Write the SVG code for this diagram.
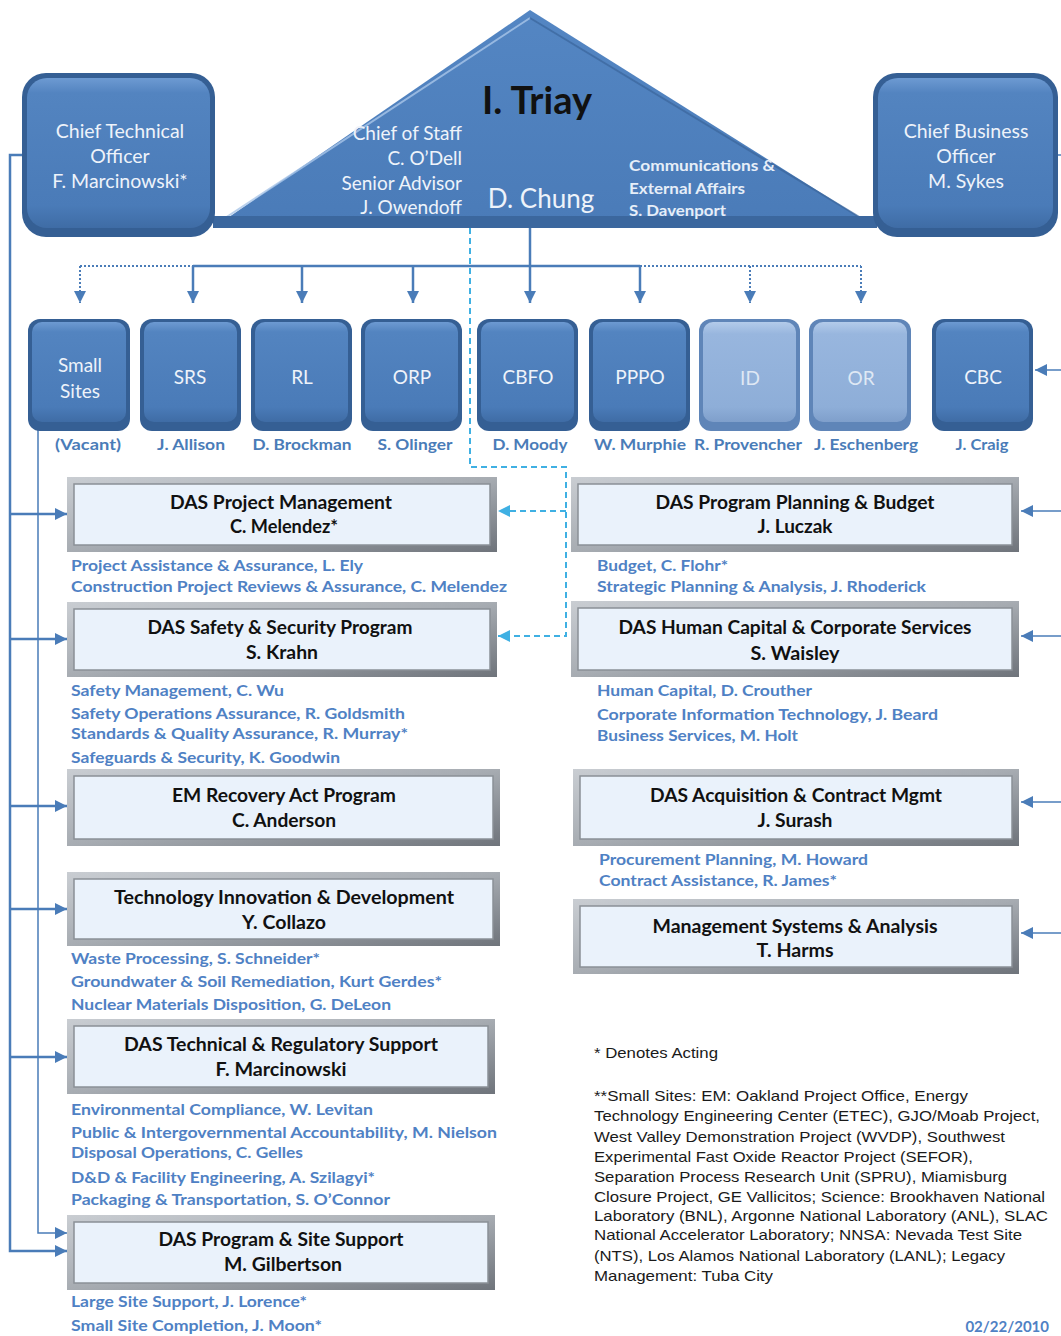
<svg xmlns="http://www.w3.org/2000/svg" width="1061" height="1336" viewBox="0 0 1061 1336">
<defs>
  <linearGradient id="gSite" x1="0" y1="0" x2="0" y2="1">
    <stop offset="0" stop-color="#6d9ad2"/>
    <stop offset="0.1" stop-color="#5384c0"/>
    <stop offset="0.85" stop-color="#4a7bb8"/>
    <stop offset="1" stop-color="#3f6ca5"/>
  </linearGradient>
  <linearGradient id="gLight" x1="0" y1="0" x2="0" y2="1">
    <stop offset="0" stop-color="#b3cbea"/>
    <stop offset="0.12" stop-color="#98b6de"/>
    <stop offset="0.85" stop-color="#8eaed8"/>
    <stop offset="1" stop-color="#7f9fcb"/>
  </linearGradient>
  <linearGradient id="gTri" x1="0" y1="0" x2="0" y2="1">
    <stop offset="0" stop-color="#5486c3"/>
    <stop offset="1" stop-color="#4a7bb8"/>
  </linearGradient>
  <linearGradient id="gFrame" x1="0" y1="0" x2="1" y2="1">
    <stop offset="0" stop-color="#c9cdd2"/>
    <stop offset="0.5" stop-color="#a7acb2"/>
    <stop offset="1" stop-color="#6f747b"/>
  </linearGradient>
  <marker id="ah" viewBox="0 0 10 10" refX="10" refY="5" markerWidth="12" markerHeight="12" markerUnits="userSpaceOnUse" orient="auto">
    <path d="M0,0 L10,5 L0,10 z" fill="#4a7cb8"/>
  </marker>
  <marker id="ahc" viewBox="0 0 10 10" refX="10" refY="5" markerWidth="12" markerHeight="12" markerUnits="userSpaceOnUse" orient="auto">
    <path d="M0,0 L10,5 L0,10 z" fill="#3fb0e3"/>
  </marker>
</defs>
<style>
  .siteOuter { fill: #355f94; }
  .siteInner { fill: url(#gSite); }
  .lightOuter { fill: #5f85b8; }
  .lightInner { fill: url(#gLight); }
  .siteTxt { font-family: Lato, "Open Sans", sans-serif; font-size: 19px; fill: #eef3fa; text-anchor: middle; }
  .lightTxt { font-family: Lato, "Open Sans", sans-serif; font-size: 19px; fill: #dfe8f4; text-anchor: middle; }
  .siteName { font-family: Lato, "Open Sans", sans-serif; font-size: 15px; font-weight: bold; fill: #4a7cb8; text-anchor: middle; }
  .chiefTxt { font-family: Lato, "Open Sans", sans-serif; font-size: 19.5px; fill: #eef3fa; text-anchor: middle; }
  .triTxt { font-family: Lato, "Open Sans", sans-serif; font-size: 19px; fill: #eef3fa; text-anchor: end; }
  .commTxt { font-family: Lato, "Open Sans", sans-serif; font-size: 15.5px; font-weight: bold; fill: #e6eef8; }
  .frameO { fill: url(#gFrame); }
  .frameI { fill: #eaf2fb; stroke: #8a9097; stroke-width: 1.5; }
  .boxTxt { font-family: Lato, "Open Sans", sans-serif; font-size: 19px; font-weight: bold; fill: #111; text-anchor: middle; }
  .sub { font-family: Lato, "Open Sans", sans-serif; font-size: 16px; font-weight: bold; fill: #4f81c4; }
  .note { font-family: "Liberation Sans", Arial, sans-serif; font-size: 14.5px; fill: #1a1a1a; }
  .conn { fill: none; stroke: #4a7cb8; }
  .thick { stroke-width: 2.5; }
  .thin { stroke-width: 1.5; }
  .dot { stroke-dasharray: 2 2; stroke-width: 2; }
  .cyan { fill: none; stroke: #3fb0e3; stroke-width: 2; stroke-dasharray: 6 4; }
</style>
<rect width="1061" height="1336" fill="#ffffff"/>

<!-- connectors -->
<g id="connectors">
  <path class="conn thick" d="M530,227 V303" marker-end="url(#ah)"/>
  <path class="conn thick" d="M193,266 H640"/>
  <path class="conn dot" d="M80,266 H193"/>
  <path class="conn dot" d="M640,266 H861"/>
  <path class="conn dot" d="M80,266 V303" marker-end="url(#ah)"/>
  <path class="conn thick" d="M193,266 V303" marker-end="url(#ah)"/>
  <path class="conn thick" d="M302,266 V303" marker-end="url(#ah)"/>
  <path class="conn thick" d="M413,266 V303" marker-end="url(#ah)"/>
  <path class="conn thick" d="M640,266 V303" marker-end="url(#ah)"/>
  <path class="conn dot" d="M750,266 V303" marker-end="url(#ah)"/>
  <path class="conn dot" d="M861,266 V303" marker-end="url(#ah)"/>
  <path class="conn thick" d="M23,155 H10 V1251 H67" marker-end="url(#ah)"/>
  <path class="conn thick" d="M10,514 H67" marker-end="url(#ah)"/>
  <path class="conn thick" d="M10,639 H67" marker-end="url(#ah)"/>
  <path class="conn thick" d="M10,806 H67" marker-end="url(#ah)"/>
  <path class="conn thick" d="M10,909 H67" marker-end="url(#ah)"/>
  <path class="conn thick" d="M10,1057 H67" marker-end="url(#ah)"/>
  <path class="conn thin" d="M38,430 V1233 H67" marker-end="url(#ah)"/>
  <path class="conn thin" d="M1057,155 H1061"/>
  <path class="conn thin" d="M1061,370 H1035" marker-end="url(#ah)"/>
  <path class="conn thin" d="M1061,511 H1021" marker-end="url(#ah)"/>
  <path class="conn thin" d="M1061,636 H1021" marker-end="url(#ah)"/>
  <path class="conn thin" d="M1061,802 H1021" marker-end="url(#ah)"/>
  <path class="conn thin" d="M1061,933 H1021" marker-end="url(#ah)"/>
  <path class="cyan" d="M470,228 V467 H566 V636 H498" marker-end="url(#ahc)"/>
  <path class="cyan" d="M566,511 H498" marker-end="url(#ahc)"/>
</g>

<g id="front-office">
  <polygon points="213,228 530,10 877,228" fill="url(#gTri)"/>
  <path d="M222,220 L530,18" stroke="#a9c5e8" stroke-width="2" fill="none" opacity="0.8"/>
  <path d="M530,18 L866,221" stroke="#3a659b" stroke-width="2" fill="none" opacity="0.7"/>
  <rect x="213" y="216" width="664" height="12" fill="#3b679e"/>
  <text x="537" y="114" font-family="Lato, 'Open Sans', sans-serif" font-size="38" font-weight="bold" fill="#111" text-anchor="middle">I. Triay</text>
  <text class="triTxt" x="462" y="140">Chief of Staff</text>
  <text class="triTxt" x="462" y="165">C. O’Dell</text>
  <text class="triTxt" x="462" y="190">Senior Advisor</text>
  <text class="triTxt" x="462" y="214">J. Owendoff</text>
  <text x="541" y="208" font-family="Lato, 'Open Sans', sans-serif" font-size="26" fill="#eef3fa" text-anchor="middle">D. Chung</text>
  <text class="commTxt" x="629" y="171" textLength="146" lengthAdjust="spacingAndGlyphs">Communications &amp;</text>
  <text class="commTxt" x="629" y="194" textLength="116" lengthAdjust="spacingAndGlyphs">External Affairs</text>
  <text class="commTxt" x="629" y="216" textLength="97" lengthAdjust="spacingAndGlyphs">S. Davenport</text>
</g>

<g id="cto">
  <rect x="22" y="73" width="193" height="164" rx="24" class="siteOuter"/>
  <rect x="27" y="78" width="183" height="150" rx="20" class="siteInner"/>
  <text class="chiefTxt" x="120" y="138">Chief Technical</text>
  <text class="chiefTxt" x="120" y="163">Officer</text>
  <text class="chiefTxt" x="120" y="188">F. Marcinowski*</text>
</g>
<g id="cbo">
  <rect x="873" y="73" width="185" height="164" rx="24" class="siteOuter"/>
  <rect x="878" y="78" width="175" height="150" rx="20" class="siteInner"/>
  <text class="chiefTxt" x="966" y="138">Chief Business</text>
  <text class="chiefTxt" x="966" y="163">Officer</text>
  <text class="chiefTxt" x="966" y="188">M. Sykes</text>
</g>

<g id="small-sites">
  <rect x="28" y="319" width="102" height="112" rx="12" class="siteOuter"/>
  <rect x="32" y="322" width="94" height="100" rx="10" class="siteInner"/>
  <text class="siteTxt" x="80" y="372" font-size="22">Small</text>
  <text class="siteTxt" x="80" y="398" font-size="22">Sites</text>
  <text class="siteName" x="88" y="450" textLength="66" lengthAdjust="spacingAndGlyphs">(Vacant)</text>
</g>
<g id="srs">
  <rect x="140" y="319" width="101" height="112" rx="12" class="siteOuter"/>
  <rect x="144" y="322" width="93" height="100" rx="10" class="siteInner"/>
  <text class="siteTxt" x="190" y="384">SRS</text>
  <text class="siteName" x="191" y="450" textLength="68" lengthAdjust="spacingAndGlyphs">J. Allison</text>
</g>
<g id="rl">
  <rect x="251" y="319" width="101" height="112" rx="12" class="siteOuter"/>
  <rect x="255" y="322" width="93" height="100" rx="10" class="siteInner"/>
  <text class="siteTxt" x="302" y="384">RL</text>
  <text class="siteName" x="302" y="450" textLength="99" lengthAdjust="spacingAndGlyphs">D. Brockman</text>
</g>
<g id="orp">
  <rect x="361" y="319" width="101" height="112" rx="12" class="siteOuter"/>
  <rect x="365" y="322" width="93" height="100" rx="10" class="siteInner"/>
  <text class="siteTxt" x="412" y="384">ORP</text>
  <text class="siteName" x="415" y="450" textLength="75" lengthAdjust="spacingAndGlyphs">S. Olinger</text>
</g>
<g id="cbfo">
  <rect x="477" y="319" width="101" height="112" rx="12" class="siteOuter"/>
  <rect x="481" y="322" width="93" height="100" rx="10" class="siteInner"/>
  <text class="siteTxt" x="528" y="384">CBFO</text>
  <text class="siteName" x="530" y="450" textLength="75" lengthAdjust="spacingAndGlyphs">D. Moody</text>
</g>
<g id="pppo">
  <rect x="589" y="319" width="101" height="112" rx="12" class="siteOuter"/>
  <rect x="593" y="322" width="93" height="100" rx="10" class="siteInner"/>
  <text class="siteTxt" x="640" y="384">PPPO</text>
  <text class="siteName" x="640" y="450" textLength="92" lengthAdjust="spacingAndGlyphs">W. Murphie</text>
</g>
<g id="id">
  <rect x="699" y="319" width="101" height="112" rx="12" class="lightOuter"/>
  <rect x="703" y="322" width="93" height="100" rx="10" class="lightInner"/>
  <text class="lightTxt" x="750" y="385">ID</text>
  <text class="siteName" x="748" y="450" textLength="108" lengthAdjust="spacingAndGlyphs">R. Provencher</text>
</g>
<g id="or">
  <rect x="809" y="319" width="102" height="112" rx="12" class="lightOuter"/>
  <rect x="813" y="322" width="94" height="100" rx="10" class="lightInner"/>
  <text class="lightTxt" x="861" y="385">OR</text>
  <text class="siteName" x="866" y="450" textLength="104" lengthAdjust="spacingAndGlyphs">J. Eschenberg</text>
</g>
<g id="cbc">
  <rect x="932" y="319" width="101" height="112" rx="12" class="siteOuter"/>
  <rect x="936" y="322" width="93" height="100" rx="10" class="siteInner"/>
  <text class="siteTxt" x="983" y="384">CBC</text>
  <text class="siteName" x="982" y="450" textLength="53" lengthAdjust="spacingAndGlyphs">J. Craig</text>
</g>

<g id="das-pm">
  <rect x="67" y="477" width="430" height="75" class="frameO"/>
  <rect x="74" y="484" width="416" height="61" class="frameI"/>
  <text class="boxTxt" x="281" y="509" textLength="222" lengthAdjust="spacingAndGlyphs">DAS Project Management</text>
  <text class="boxTxt" x="284" y="533" textLength="108" lengthAdjust="spacingAndGlyphs">C. Melendez*</text>
  <text class="sub" x="71" y="571" textLength="292" lengthAdjust="spacingAndGlyphs">Project Assistance &amp; Assurance, L. Ely</text>
  <text class="sub" x="71" y="592" font-size="14.5" textLength="436" lengthAdjust="spacingAndGlyphs">Construction Project Reviews &amp; Assurance, C. Melendez</text>
</g>
<g id="das-safety">
  <rect x="67" y="602" width="430" height="75" class="frameO"/>
  <rect x="74" y="609" width="416" height="61" class="frameI"/>
  <text class="boxTxt" x="280" y="634" textLength="265" lengthAdjust="spacingAndGlyphs">DAS Safety &amp; Security Program</text>
  <text class="boxTxt" x="282" y="659" textLength="72" lengthAdjust="spacingAndGlyphs">S. Krahn</text>
  <text class="sub" x="71" y="696" font-size="15" textLength="213" lengthAdjust="spacingAndGlyphs">Safety Management, C. Wu</text>
  <text class="sub" x="71" y="719" textLength="334" lengthAdjust="spacingAndGlyphs">Safety Operations Assurance, R. Goldsmith</text>
  <text class="sub" x="71" y="739" font-size="15" textLength="337" lengthAdjust="spacingAndGlyphs">Standards &amp; Quality Assurance, R. Murray*</text>
  <text class="sub" x="71" y="763" font-size="15" textLength="269" lengthAdjust="spacingAndGlyphs">Safeguards &amp; Security, K. Goodwin</text>
</g>
<g id="em-recovery">
  <rect x="67" y="769" width="433" height="77" class="frameO"/>
  <rect x="74" y="776" width="419" height="63" class="frameI"/>
  <text class="boxTxt" x="284" y="802" textLength="224" lengthAdjust="spacingAndGlyphs">EM Recovery Act Program</text>
  <text class="boxTxt" x="284" y="827" textLength="104" lengthAdjust="spacingAndGlyphs">C. Anderson</text>
</g>
<g id="tech-innov">
  <rect x="67" y="872" width="433" height="74" class="frameO"/>
  <rect x="74" y="879" width="419" height="60" class="frameI"/>
  <text class="boxTxt" x="284" y="904" textLength="340" lengthAdjust="spacingAndGlyphs">Technology Innovation &amp; Development</text>
  <text class="boxTxt" x="284" y="929" textLength="84" lengthAdjust="spacingAndGlyphs">Y. Collazo</text>
  <text class="sub" x="71" y="964" textLength="249" lengthAdjust="spacingAndGlyphs">Waste Processing, S. Schneider*</text>
  <text class="sub" x="71" y="987" font-size="15" textLength="371" lengthAdjust="spacingAndGlyphs">Groundwater &amp; Soil Remediation, Kurt Gerdes*</text>
  <text class="sub" x="71" y="1010" font-size="15" textLength="320" lengthAdjust="spacingAndGlyphs">Nuclear Materials Disposition, G. DeLeon</text>
</g>
<g id="das-tech-reg">
  <rect x="67" y="1019" width="428" height="75" class="frameO"/>
  <rect x="74" y="1026" width="414" height="61" class="frameI"/>
  <text class="boxTxt" x="281" y="1051" textLength="314" lengthAdjust="spacingAndGlyphs">DAS Technical &amp; Regulatory Support</text>
  <text class="boxTxt" x="281" y="1076" textLength="131" lengthAdjust="spacingAndGlyphs">F. Marcinowski</text>
  <text class="sub" x="71" y="1115" font-size="15" textLength="302" lengthAdjust="spacingAndGlyphs">Environmental Compliance, W. Levitan</text>
  <text class="sub" x="71" y="1138" textLength="426" lengthAdjust="spacingAndGlyphs">Public &amp; Intergovernmental Accountability, M. Nielson</text>
  <text class="sub" x="71" y="1158" font-size="15" textLength="232" lengthAdjust="spacingAndGlyphs">Disposal Operations, C. Gelles</text>
  <text class="sub" x="71" y="1183" textLength="304" lengthAdjust="spacingAndGlyphs">D&amp;D &amp; Facility Engineering, A. Szilagyi*</text>
  <text class="sub" x="71" y="1205" textLength="319" lengthAdjust="spacingAndGlyphs">Packaging &amp; Transportation, S. O’Connor</text>
</g>
<g id="das-program-site">
  <rect x="67" y="1215" width="428" height="75" class="frameO"/>
  <rect x="74" y="1222" width="414" height="61" class="frameI"/>
  <text class="boxTxt" x="281" y="1246" textLength="245" lengthAdjust="spacingAndGlyphs">DAS Program &amp; Site Support</text>
  <text class="boxTxt" x="283" y="1271" textLength="118" lengthAdjust="spacingAndGlyphs">M. Gilbertson</text>
  <text class="sub" x="71" y="1307" textLength="236" lengthAdjust="spacingAndGlyphs">Large Site Support, J. Lorence*</text>
  <text class="sub" x="71" y="1331" textLength="251" lengthAdjust="spacingAndGlyphs">Small Site Completion, J. Moon*</text>
</g>

<g id="das-ppb">
  <rect x="571" y="477" width="448" height="75" class="frameO"/>
  <rect x="578" y="484" width="434" height="61" class="frameI"/>
  <text class="boxTxt" x="795" y="509" textLength="279" lengthAdjust="spacingAndGlyphs">DAS Program Planning &amp; Budget</text>
  <text class="boxTxt" x="795" y="533" textLength="75" lengthAdjust="spacingAndGlyphs">J. Luczak</text>
  <text class="sub" x="597" y="571" textLength="131" lengthAdjust="spacingAndGlyphs">Budget, C. Flohr*</text>
  <text class="sub" x="597" y="592" font-size="14.5" textLength="329" lengthAdjust="spacingAndGlyphs">Strategic Planning &amp; Analysis, J. Rhoderick</text>
</g>
<g id="das-hc">
  <rect x="571" y="601" width="448" height="76" class="frameO"/>
  <rect x="578" y="608" width="434" height="62" class="frameI"/>
  <text class="boxTxt" x="795" y="634" textLength="353" lengthAdjust="spacingAndGlyphs">DAS Human Capital &amp; Corporate Services</text>
  <text class="boxTxt" x="795" y="660" textLength="89" lengthAdjust="spacingAndGlyphs">S. Waisley</text>
  <text class="sub" x="597" y="696" font-size="15" textLength="215" lengthAdjust="spacingAndGlyphs">Human Capital, D. Crouther</text>
  <text class="sub" x="597" y="720" textLength="341" lengthAdjust="spacingAndGlyphs">Corporate Information Technology, J. Beard</text>
  <text class="sub" x="597" y="741" font-size="15" textLength="201" lengthAdjust="spacingAndGlyphs">Business Services, M. Holt</text>
</g>
<g id="das-acq">
  <rect x="573" y="769" width="446" height="77" class="frameO"/>
  <rect x="580" y="776" width="432" height="63" class="frameI"/>
  <text class="boxTxt" x="796" y="802" textLength="292" lengthAdjust="spacingAndGlyphs">DAS Acquisition &amp; Contract Mgmt</text>
  <text class="boxTxt" x="795" y="827" textLength="75" lengthAdjust="spacingAndGlyphs">J. Surash</text>
  <text class="sub" x="599" y="865" font-size="15" textLength="269" lengthAdjust="spacingAndGlyphs">Procurement Planning, M. Howard</text>
  <text class="sub" x="599" y="886" textLength="238" lengthAdjust="spacingAndGlyphs">Contract Assistance, R. James*</text>
</g>
<g id="mgmt-systems">
  <rect x="573" y="899" width="446" height="75" class="frameO"/>
  <rect x="580" y="906" width="432" height="61" class="frameI"/>
  <text class="boxTxt" x="795" y="933" textLength="285" lengthAdjust="spacingAndGlyphs">Management Systems &amp; Analysis</text>
  <text class="boxTxt" x="795" y="957" textLength="77" lengthAdjust="spacingAndGlyphs">T. Harms</text>
</g>

<g id="notes">
  <text class="note" x="594" y="1058" textLength="124" lengthAdjust="spacingAndGlyphs">* Denotes Acting</text>
  <text class="note" x="594" y="1101" textLength="374" lengthAdjust="spacingAndGlyphs">**Small Sites:  EM: Oakland Project Office, Energy</text>
  <text class="note" x="594" y="1121" textLength="446" lengthAdjust="spacingAndGlyphs">Technology Engineering Center (ETEC), GJO/Moab Project,</text>
  <text class="note" x="594" y="1142" textLength="411" lengthAdjust="spacingAndGlyphs">West Valley Demonstration Project (WVDP), Southwest</text>
  <text class="note" x="594" y="1162" textLength="379" lengthAdjust="spacingAndGlyphs">Experimental Fast Oxide Reactor Project (SEFOR),</text>
  <text class="note" x="594" y="1182" textLength="413" lengthAdjust="spacingAndGlyphs">Separation Process Research Unit (SPRU), Miamisburg</text>
  <text class="note" x="594" y="1202" textLength="451" lengthAdjust="spacingAndGlyphs">Closure Project, GE Vallicitos; Science: Brookhaven National</text>
  <text class="note" x="594" y="1221" textLength="454" lengthAdjust="spacingAndGlyphs">Laboratory (BNL), Argonne National Laboratory (ANL), SLAC</text>
  <text class="note" x="594" y="1240" textLength="428" lengthAdjust="spacingAndGlyphs">National Accelerator Laboratory; NNSA: Nevada Test Site</text>
  <text class="note" x="594" y="1261" textLength="411" lengthAdjust="spacingAndGlyphs">(NTS), Los Alamos National Laboratory (LANL); Legacy</text>
  <text class="note" x="594" y="1281" textLength="179" lengthAdjust="spacingAndGlyphs">Management: Tuba City</text>
  <text x="1049" y="1332" font-family="Lato, 'Open Sans', sans-serif" font-size="15" font-weight="bold" fill="#4f81c4" text-anchor="end">02/22/2010</text>
</g>
</svg>
